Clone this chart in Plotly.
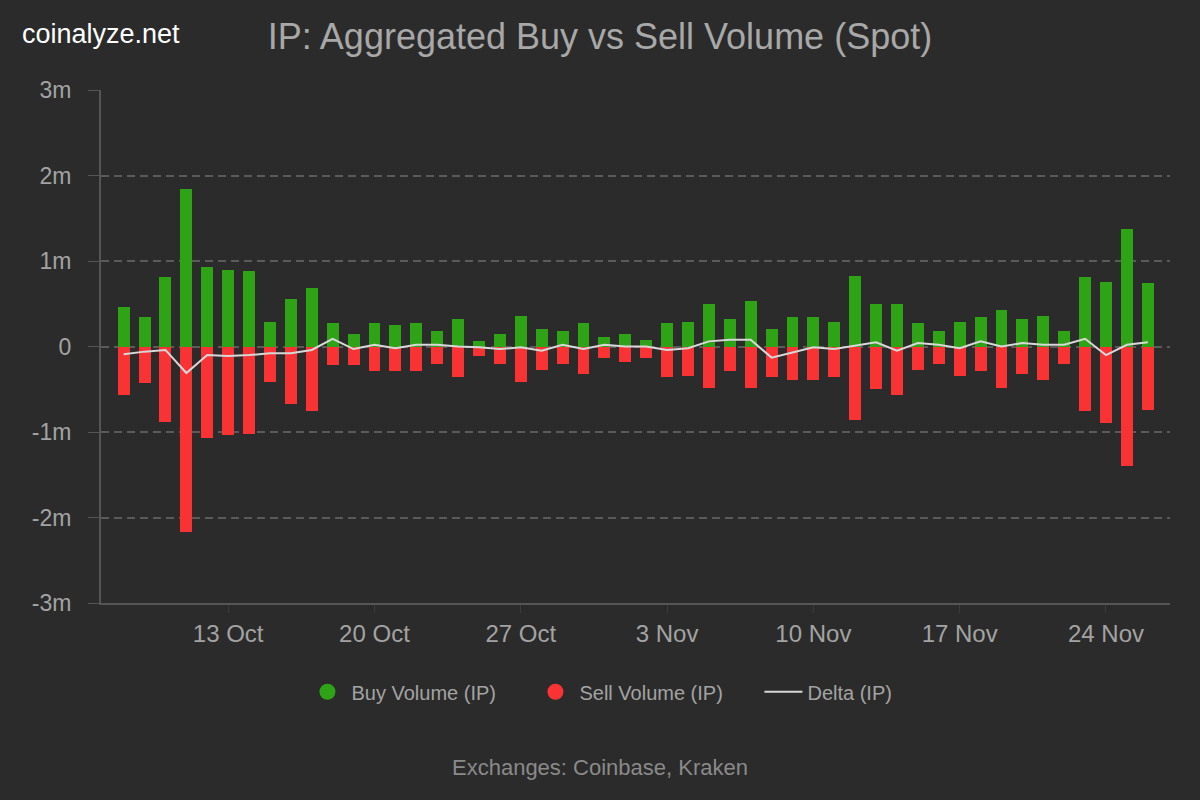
import pandas as pd
import plotly.graph_objects as go

# daily spot volume for IP, Coinbase + Kraken (in millions)
dates = pd.date_range('2025-10-08', '2025-11-26', freq='D')

buy_volume = [0.46, 0.34, 0.81, 1.84, 0.93, 0.90, 0.88, 0.29, 0.55, 0.69,
              0.27, 0.15, 0.27, 0.25, 0.27, 0.18, 0.32, 0.06, 0.15, 0.36,
              0.20, 0.18, 0.27, 0.11, 0.15, 0.08, 0.27, 0.29, 0.50, 0.32,
              0.53, 0.20, 0.34, 0.34, 0.29, 0.83, 0.50, 0.50, 0.27, 0.18,
              0.29, 0.34, 0.43, 0.32, 0.36, 0.18, 0.81, 0.76, 1.37, 0.74]
sell_volume = [0.57, 0.43, 0.88, 2.17, 1.07, 1.04, 1.02, 0.41, 0.67, 0.76,
               0.22, 0.22, 0.29, 0.29, 0.29, 0.20, 0.36, 0.11, 0.20, 0.41,
               0.27, 0.20, 0.32, 0.13, 0.18, 0.13, 0.36, 0.34, 0.48, 0.29,
               0.48, 0.36, 0.39, 0.39, 0.36, 0.86, 0.50, 0.57, 0.27, 0.20,
               0.34, 0.29, 0.48, 0.32, 0.39, 0.20, 0.76, 0.90, 1.40, 0.74]
delta = [-0.09, -0.06, -0.04, -0.31, -0.10, -0.11, -0.10, -0.08, -0.08, -0.04,
         0.09, -0.03, 0.02, -0.02, 0.02, 0.02, 0.00, -0.01, -0.03, -0.01,
         -0.05, 0.02, -0.03, 0.02, 0.00, 0.00, -0.04, -0.02, 0.06, 0.08,
         0.08, -0.13, -0.07, -0.01, -0.03, 0.01, 0.05, -0.05, 0.04, 0.02,
         -0.02, 0.06, 0.00, 0.04, 0.02, 0.02, 0.09, -0.10, 0.02, 0.05]

y_ticks = [-3, -2, -1, 0, 1, 2, 3]
y_labels = ['-3m', '-2m', '-1m', '0', '1m', '2m', '3m']

GREEN = '#2fa316'
RED = '#f93333'
BG = '#2b2b2b'
TXT = '#a3a3a3'
FONT = 'Liberation Sans, Arial, sans-serif'

bar_w = 0.57 * 86400000

fig = go.Figure()
fig.add_trace(go.Bar(x=dates, y=buy_volume, width=bar_w, marker_color=GREEN,
                     marker_line_width=0, showlegend=False))
fig.add_trace(go.Bar(x=dates, y=[-v for v in sell_volume], width=bar_w, marker_color=RED,
                     marker_line_width=0, showlegend=False))
fig.add_trace(go.Scatter(x=dates, y=delta, mode='lines', line=dict(color='#d8d8d8', width=2),
                         showlegend=False))

# legend proxies (round markers like the original)
fig.add_trace(go.Scatter(x=[None], y=[None], mode='markers', name='Buy Volume (IP)',
                         marker=dict(color=GREEN, size=18, symbol='circle')))
fig.add_trace(go.Scatter(x=[None], y=[None], mode='markers', name='Sell Volume (IP)',
                         marker=dict(color=RED, size=18, symbol='circle')))
fig.add_trace(go.Scatter(x=[None], y=[None], mode='lines', name='Delta (IP)',
                         line=dict(color='#d8d8d8', width=2)))

fig.update_layout(
    width=1200, height=800, autosize=False,
    paper_bgcolor=BG, plot_bgcolor=BG,
    font=dict(family=FONT, color=TXT, size=20),
    margin=dict(l=101, r=30, t=90, b=197, autoexpand=False),
    barmode='overlay', bargap=0,
    title=dict(text='IP: Aggregated Buy vs Sell Volume (Spot)', x=0.5, xref='container',
               xanchor='center', y=0.955, yanchor='middle',
               font=dict(size=36, color='#a8a8a8', family=FONT)),
    legend=dict(orientation='h', x=0.5093, xanchor='center', entrywidth=175, itemwidth=38,
                y=-0.173, yanchor='middle', font=dict(size=20, color=TXT)),
    xaxis=dict(range=['2025-10-06 22:00', '2025-11-27 01:30'], tickformat='%-d %b',
               dtick=7 * 86400000, tick0='2025-10-13', showgrid=False, zeroline=False,
               showline=True, linecolor='#555555', linewidth=2, tickangle=0,
               ticks='outside', ticklen=8, tickcolor='#3c3c3c', tickwidth=1,
               tickfont=dict(size=24, color=TXT)),
    yaxis=dict(range=[-3, 3], tickvals=y_ticks, ticktext=y_labels,
               showgrid=True, gridcolor='#5a5a5a', griddash='8px,5px', gridwidth=1.5,
               zeroline=False, showline=True, linecolor='#555555', linewidth=2,
               ticks='outside', ticklen=11, tickcolor='#555555', ticklabelstandoff=12,
               tickfont=dict(size=23, color=TXT)),
)

fig.add_annotation(text='coinalyze.net', xref='paper', yref='paper', x=-0.0758, y=1.11,
                   xanchor='left', yanchor='middle', showarrow=False,
                   font=dict(size=27, color='#ffffff', family=FONT))
fig.add_annotation(text='Exchanges: Coinbase, Kraken', xref='paper', yref='paper',
                   x=0.4668, y=-0.320, xanchor='center', yanchor='middle', showarrow=False,
                   font=dict(size=22, color='#8a8a8a', family=FONT))

fig.write_html('out.html', post_script="document.body.style.margin='0';",
               config={'displayModeBar': False})
